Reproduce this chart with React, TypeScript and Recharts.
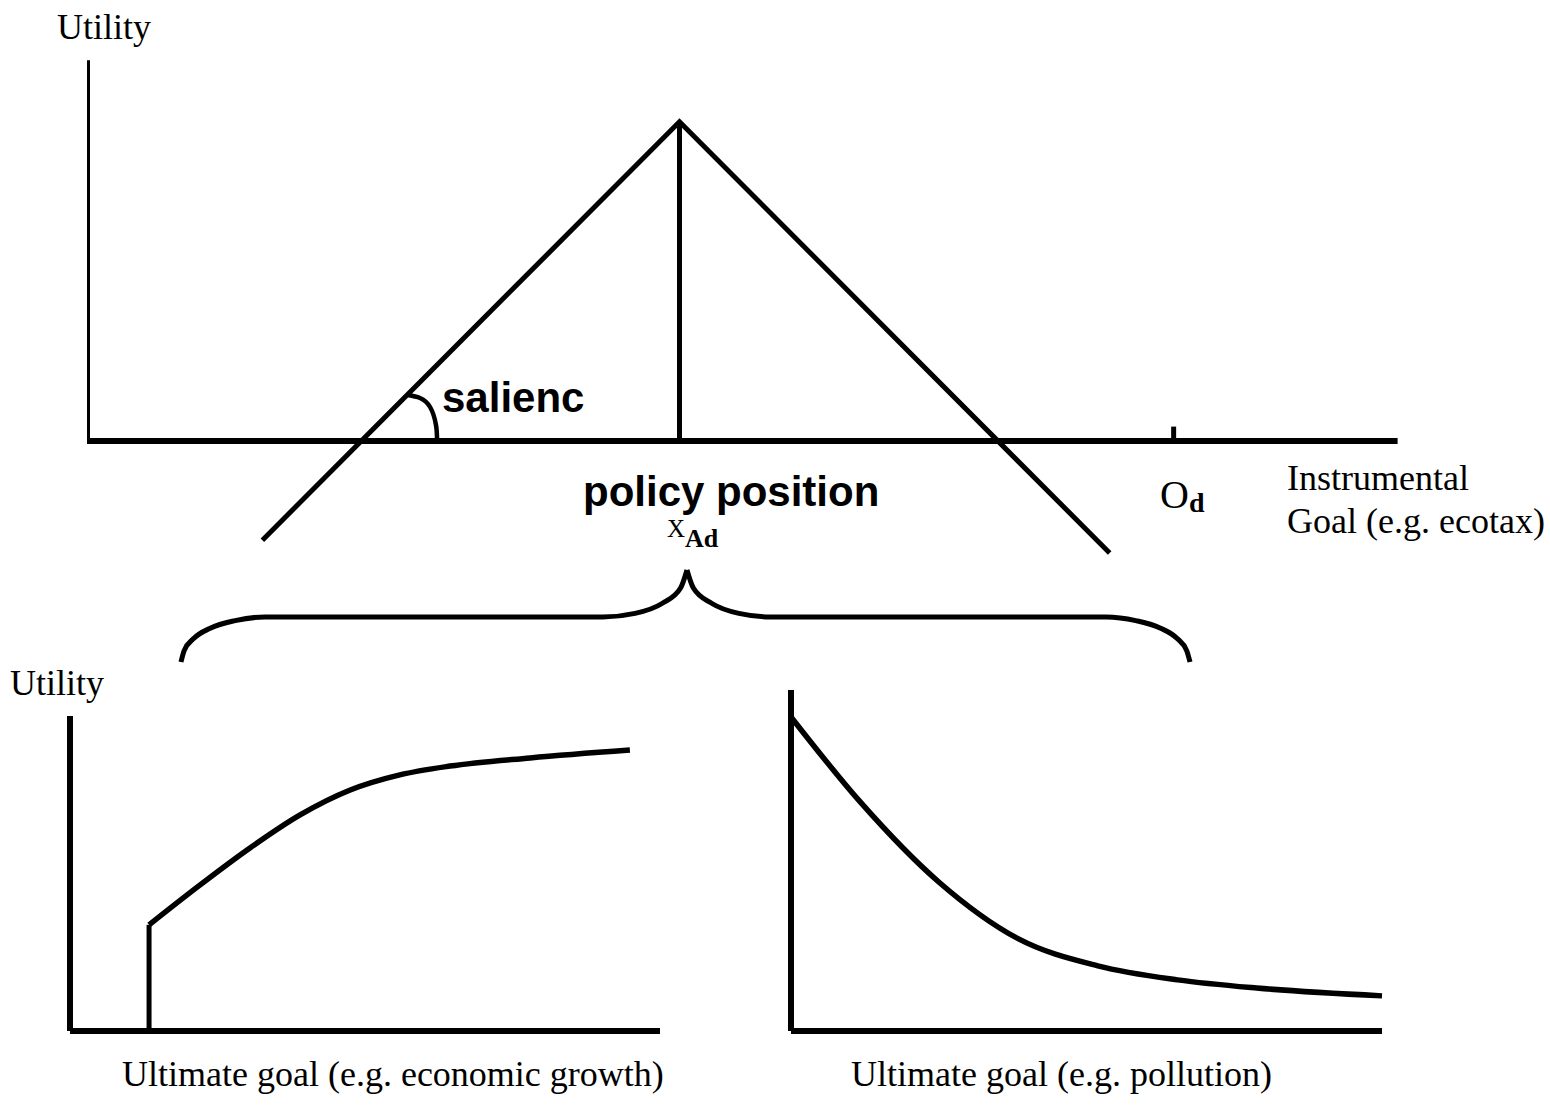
import React from "react";
import { ComposedChart, Line, XAxis, YAxis } from "recharts";

type P = { x: number; y: number };

// ---------- Top panel: utility over the instrumental goal ----------
const topAxisX: P[] = [{ x: 0, y: 0 }, { x: 11.06, y: 0 }];
const topAxisY: P[] = [{ x: 0, y: 0 }, { x: 0, y: 4.76 }];
const utilityTent: P[] = [
  { x: 1.48, y: -1.24 },
  { x: 5.0, y: 3.99 },
  { x: 8.63, y: -1.4 },
];
const policyPositionLine: P[] = [{ x: 5.0, y: 0 }, { x: 5.0, y: 3.99 }];
const idealPointTick: P[] = [{ x: 9.17, y: 0 }, { x: 9.17, y: 0.18 }];
const salienceArc: P[] = [
  { x: 2.954, y: 0 },
  { x: 2.945, y: 0.2 },
  { x: 2.895, y: 0.425 },
  { x: 2.81, y: 0.5375 },
  { x: 2.709, y: 0.575 },
];
const braceLeft: P[] = [
  { x: 0.793, y: -2.7625 },
  { x: 0.82, y: -2.62 },
  { x: 0.9, y: -2.47 },
  { x: 1.04, y: -2.34 },
  { x: 1.25, y: -2.245 },
  { x: 1.502, y: -2.2 },
  { x: 4.354, y: -2.2 },
  { x: 4.625, y: -2.155 },
  { x: 4.856, y: -2.028 },
  { x: 5.009, y: -1.838 },
  { x: 5.063, y: -1.6125 },
];
const braceRight: P[] = [
  { x: 5.063, y: -1.6125 },
  { x: 5.117, y: -1.838 },
  { x: 5.271, y: -2.028 },
  { x: 5.501, y: -2.155 },
  { x: 5.772, y: -2.2 },
  { x: 8.599, y: -2.2 },
  { x: 8.85, y: -2.245 },
  { x: 9.06, y: -2.34 },
  { x: 9.2, y: -2.47 },
  { x: 9.28, y: -2.62 },
  { x: 9.308, y: -2.7625 },
];

// ---------- Bottom-left panel: economic growth ----------
const growthAxisX: P[] = [{ x: 0, y: 0 }, { x: 10, y: 0 }];
const growthAxisY: P[] = [{ x: 0, y: 0 }, { x: 0, y: 10 }];
const growthThreshold: P[] = [{ x: 1.34, y: 0 }, { x: 1.34, y: 3.37 }];
const growthUtility: P[] = [
  { x: 1.34, y: 3.37 },
  { x: 2.2, y: 4.63 },
  { x: 3.05, y: 5.81 },
  { x: 3.9, y: 6.86 },
  { x: 4.75, y: 7.65 },
  { x: 5.59, y: 8.13 },
  { x: 6.44, y: 8.41 },
  { x: 7.8, y: 8.67 },
  { x: 9.49, y: 8.92 },
];

// ---------- Bottom-right panel: pollution ----------
const pollutionAxisX: P[] = [{ x: 0, y: 0 }, { x: 10, y: 0 }];
const pollutionAxisY: P[] = [{ x: 0, y: 0 }, { x: 0, y: 10 }];
const pollutionUtility: P[] = [
  { x: 0.0, y: 9.21 },
  { x: 1.16, y: 6.74 },
  { x: 2.5, y: 4.37 },
  { x: 3.85, y: 2.7 },
  { x: 5.19, y: 1.91 },
  { x: 6.54, y: 1.5 },
  { x: 7.88, y: 1.26 },
  { x: 10.0, y: 1.03 },
];

const W = 1550;
const H = 1108;
const serif = "'Liberation Serif', 'Times New Roman', serif";
const sans = "'Liberation Sans', Arial, sans-serif";

const seg = (
  key: string,
  data: P[],
  width: number,
  type: any = "linear"
) => (
  <Line
    key={key}
    data={data}
    dataKey="y"
    type={type}
    stroke="#000"
    strokeWidth={width}
    dot={false}
    activeDot={false}
    isAnimationActive={false}
    strokeLinejoin="miter"
  />
);

const layer: React.CSSProperties = { position: "absolute", left: 0, top: 0 };

export default function App() {
  return (
    <div style={{ position: "absolute", left: 0, top: 0, width: W, height: H, background: "#fff" }}>
      {/* Top panel */}
      <div style={layer}>
        <ComposedChart width={W} height={H} margin={{ top: 41, right: 41, bottom: 427, left: 87 }}>
          <XAxis dataKey="x" type="number" domain={[0, 12]} hide allowDataOverflow />
          <YAxis type="number" domain={[-3, 5]} hide allowDataOverflow />
          {seg("ax", topAxisX, 6)}
          {seg("ay", topAxisY, 6)}
          {seg("tent", utilityTent, 5)}
          {seg("pp", policyPositionLine, 5)}
          {seg("tick", idealPointTick, 5)}
          {seg("arc", salienceArc, 4.5, "natural")}
          {seg("bl", braceLeft, 5, "monotoneX")}
          {seg("br", braceRight, 5, "monotoneX")}
        </ComposedChart>
      </div>
      {/* Bottom-left panel */}
      <div style={layer}>
        <ComposedChart width={W} height={H} margin={{ top: 716, right: 890, bottom: 77, left: 70 }}>
          <XAxis dataKey="x" type="number" domain={[0, 10]} hide />
          <YAxis type="number" domain={[0, 10]} hide />
          {seg("gx", growthAxisX, 6)}
          {seg("gy", growthAxisY, 6)}
          {seg("gt", growthThreshold, 5)}
          {seg("gu", growthUtility, 5.5, "monotone")}
        </ComposedChart>
      </div>
      {/* Bottom-right panel */}
      <div style={layer}>
        <ComposedChart width={W} height={H} margin={{ top: 690, right: 168, bottom: 77, left: 791 }}>
          <XAxis dataKey="x" type="number" domain={[0, 10]} hide />
          <YAxis type="number" domain={[0, 10]} hide />
          {seg("px", pollutionAxisX, 6)}
          {seg("py", pollutionAxisY, 6)}
          {seg("pu", pollutionUtility, 5.5, "monotone")}
        </ComposedChart>
      </div>
      {/* Text */}
      <svg width={W} height={H} style={{ ...layer, pointerEvents: "none" }}>
        <text x={57} y={39} fontFamily={serif} fontSize={36}>Utility</text>
        <text x={442} y={412} fontFamily={sans} fontWeight="bold" fontSize={42}>salienc</text>
        <text x={583} y={506} fontFamily={sans} fontWeight="bold" fontSize={42}>policy position</text>
        <text x={667} y={537} fontFamily={serif} fontSize={25}>
          X<tspan dy={10} fontWeight="bold" fontSize={26}>Ad</tspan>
        </text>
        <text x={1160} y={508} fontFamily={serif} fontSize={40}>
          O<tspan dy={4} fontWeight="bold" fontSize={28}>d</tspan>
        </text>
        <text x={1287} y={490} fontFamily={serif} fontSize={36}>Instrumental</text>
        <text x={1287} y={533} fontFamily={serif} fontSize={36}>Goal (e.g. ecotax)</text>
        <text x={10} y={695} fontFamily={serif} fontSize={36}>Utility</text>
        <text x={122} y={1086} fontFamily={serif} fontSize={36}>Ultimate goal (e.g. economic growth)</text>
        <text x={851} y={1086} fontFamily={serif} fontSize={36}>Ultimate goal (e.g. pollution)</text>
      </svg>
    </div>
  );
}
